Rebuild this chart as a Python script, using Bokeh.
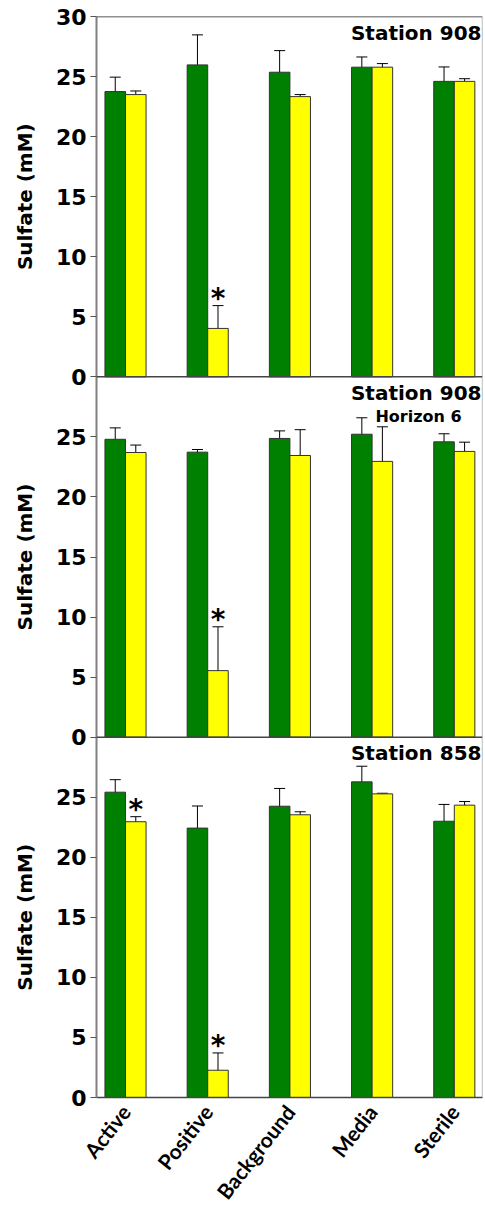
import math
from bokeh.plotting import figure
from bokeh.layouts import row
from bokeh.models import (ColumnDataSource, Range1d, FixedTicker, Whisker, TeeHead,
                          Span, Label)
from bokeh.core.properties import value
from bokeh.embed import file_html
from bokeh.resources import INLINE

# ---------------- data ----------------
categories = ["Active", "Positive", "Background", "Media", "Sterile"]

panel_titles = ["Station 908", "Station 908", "Station 858"]
panel_subtitles = ["", "Horizon 6", ""]
y_label = "Sulfate (mM)"

p1_green = [23.75, 25.97, 25.36, 25.78, 24.60]
p1_green_err = [1.20, 2.50, 1.80, 0.85, 1.20]
p1_yellow = [23.50, 4.03, 23.33, 25.78, 24.60]
p1_yellow_err = [0.30, 1.90, 0.17, 0.30, 0.22]

p2_green = [24.80, 23.73, 24.87, 25.22, 24.59]
p2_green_err = [0.95, 0.22, 0.63, 1.37, 0.67]
p2_yellow = [23.70, 5.54, 23.45, 22.96, 23.79]
p2_yellow_err = [0.62, 3.65, 2.15, 2.88, 0.77]

p3_green = [25.42, 22.43, 24.25, 26.28, 23.00]
p3_green_err = [1.04, 1.84, 1.48, 1.30, 1.40]
p3_yellow = [22.96, 2.27, 23.54, 25.28, 24.34]
p3_yellow_err = [0.42, 1.44, 0.25, 0.05, 0.30]

# significance markers: (panel index, category index) on the yellow series
p_asterisks = [(0, 1), (1, 1), (2, 0), (2, 1)]

y_ticks = [0, 5, 10, 15, 20, 25, 30]

panels = [
    (p1_green, p1_green_err, p1_yellow, p1_yellow_err),
    (p2_green, p2_green_err, p2_yellow, p2_yellow_err),
    (p3_green, p3_green_err, p3_yellow, p3_yellow_err),
]

# ---------------- layout constants ----------------
W, H = 485, 1219
LAB_W = 48
LEFT, RIGHT, TOP, BOTTOM = 96, 3, 16, 122
PANEL_SPAN = 30
N = len(panels)
x_start, x_end = -0.353, 4.343
px_per_x = (W - LEFT - RIGHT) / (x_end - x_start)
px_per_y = (H - TOP - BOTTOM) / (PANEL_SPAN * N)
BW = 0.25
GREEN = "#008000"
YELLOW = "#FFFF00"
EDGE = "#333333"
FONT = "DejaVu Sans"

# ---- narrow figure carrying the rotated y-axis titles ----
lab = figure(width=LAB_W, height=H, output_backend="svg", toolbar_location=None,
             x_range=Range1d(0, LAB_W), y_range=Range1d(0, PANEL_SPAN * N),
             min_border_left=0, min_border_right=0,
             min_border_top=TOP, min_border_bottom=BOTTOM)
lab.axis.visible = False
lab.grid.visible = False
lab.outline_line_color = None
lab.border_fill_color = "white"
lab.text(x=[24] * N, y=[PANEL_SPAN * (N - 1 - k) + PANEL_SPAN / 2 for k in range(N)],
         text=[y_label] * N, angle=math.pi / 2, text_align="center",
         text_baseline="middle", text_font=value(FONT), text_font_style="bold",
         text_font_size="20px", text_color="black")

# ---- main figure ----
p = figure(width=W - LAB_W, height=H, output_backend="svg", toolbar_location=None,
           x_range=Range1d(x_start, x_end), y_range=Range1d(0, PANEL_SPAN * N),
           min_border_left=LEFT - LAB_W, min_border_right=RIGHT,
           min_border_top=TOP, min_border_bottom=BOTTOM)
p.outline_line_color = None
p.xgrid.visible = False
p.ygrid.visible = False
p.background_fill_color = "white"
p.border_fill_color = "white"

xs = list(range(len(categories)))

for k, (g, ge, yv, ye) in enumerate(panels):
    base = PANEL_SPAN * (N - 1 - k)
    src_g = ColumnDataSource(dict(
        x=[i - BW / 2 for i in xs], top=[base + v for v in g],
        up=[base + v + e for v, e in zip(g, ge)], lo=[base + v - e for v, e in zip(g, ge)],
        bottom=[base] * len(xs)))
    src_y = ColumnDataSource(dict(
        x=[i + BW / 2 for i in xs], top=[base + v for v in yv],
        up=[base + v + e for v, e in zip(yv, ye)], lo=[base + v - e for v, e in zip(yv, ye)],
        bottom=[base] * len(xs)))
    for src, col in ((src_g, GREEN), (src_y, YELLOW)):
        p.vbar(x="x", width=BW, top="top", bottom="bottom", source=src,
               fill_color=col, line_color=EDGE, line_width=1)
        p.add_layout(Whisker(source=src, base="x", upper="up", lower="lo",
                             dimension="height", line_color="black", line_width=1,
                             upper_head=TeeHead(size=11, line_color="black", line_width=1),
                             lower_head=TeeHead(size=11, line_color="black", line_width=1)))

    # panel title
    p.add_layout(Label(x=x_end - 1 / px_per_x, y=base + PANEL_SPAN - 4 / px_per_y,
                       text=panel_titles[k], text_align="right", text_baseline="top",
                       text_font=FONT, text_font_style="bold",
                       text_font_size="20px", text_color="black"))
    if panel_subtitles[k]:
        p.add_layout(Label(x=x_start + (418 - LEFT) / px_per_x,
                           y=base + PANEL_SPAN - 30 / px_per_y,
                           text=panel_subtitles[k], text_align="center", text_baseline="top",
                           text_font=FONT, text_font_style="bold",
                           text_font_size="16px", text_color="black"))

# asterisks
ast_x, ast_y = [], []
for k, i in p_asterisks:
    base = PANEL_SPAN * (N - 1 - k)
    _, _, yv, ye = panels[k]
    ast_x.append(i + BW / 2)
    ast_y.append(base + yv[i] + ye[i])
p.text(x=ast_x, y=ast_y, text=["*"] * len(ast_x), text_align="center",
       text_baseline="alphabetic", y_offset=-7, text_font=value(FONT),
       text_font_style="bold", text_font_size="28px", text_color="black")

# frame lines
p.add_layout(Span(location=PANEL_SPAN * N, dimension="width", line_color="#222222", line_width=1.3))
p.add_layout(Span(location=x_end, dimension="height", line_color="#999999", line_width=1.3))
for k in range(1, N):
    p.add_layout(Span(location=PANEL_SPAN * k, dimension="width", line_color="#444444", line_width=1.5))

# y axis
ticks, overrides = [], {}
for k in range(N):
    base = PANEL_SPAN * (N - 1 - k)
    for t in y_ticks:
        if t == PANEL_SPAN and k > 0:
            continue
        v = base + t
        if v not in ticks:
            ticks.append(v)
            overrides[v] = str(t)
p.yaxis.ticker = FixedTicker(ticks=sorted(ticks))
p.yaxis.major_label_overrides = overrides
p.yaxis.minor_tick_line_color = None
p.yaxis.major_tick_in = 0
p.yaxis.major_tick_out = 6
p.yaxis.major_tick_line_color = "#555555"
p.yaxis.axis_line_color = "#808080"
p.yaxis.axis_line_width = 2
p.yaxis.major_label_text_font = FONT
p.yaxis.major_label_text_font_style = "bold"
p.yaxis.major_label_text_font_size = "22px"
p.yaxis.major_label_text_color = "black"
p.yaxis.major_label_standoff = 4

# x axis
p.xaxis.ticker = FixedTicker(ticks=xs)
p.xaxis.major_label_overrides = {i: c for i, c in zip(xs, categories)}
p.xaxis.major_label_orientation = math.radians(52)
p.xaxis.minor_tick_line_color = None
p.xaxis.major_tick_line_color = None
p.xaxis.major_tick_in = 0
p.xaxis.major_tick_out = 0
p.xaxis.axis_line_color = "#444444"
p.xaxis.axis_line_width = 1.5
p.xaxis.major_label_text_font = "Lato"
p.xaxis.major_label_text_font_style = "bold"
p.xaxis.major_label_text_font_size = "21px"
p.xaxis.major_label_text_color = "black"
p.xaxis.major_label_standoff = 10

layout = row(lab, p, spacing=0)
open("out.html", "w").write(file_html(layout, INLINE))
